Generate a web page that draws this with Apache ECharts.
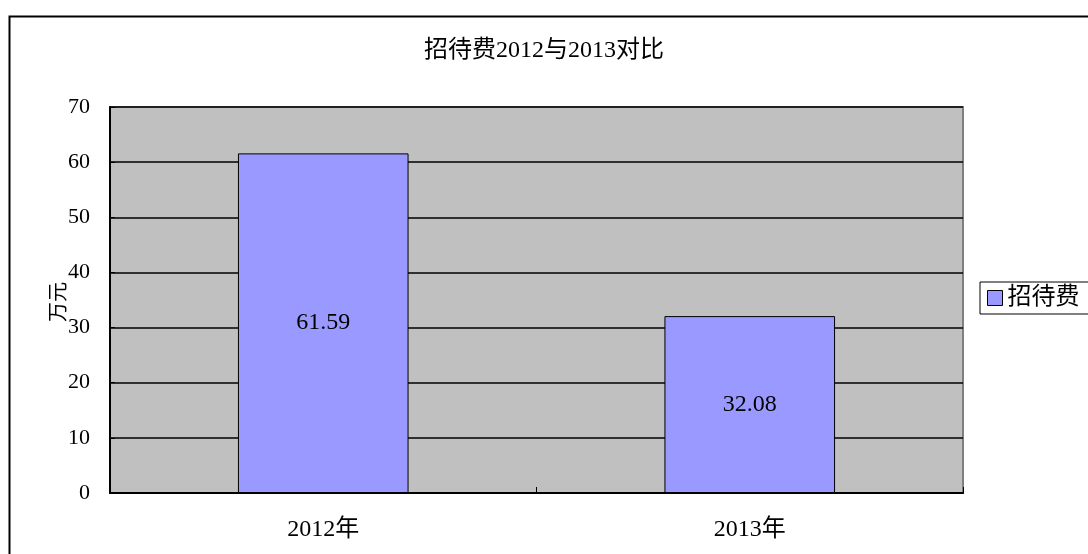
<!DOCTYPE html>
<html>
<head>
<meta charset="utf-8">
<script src="https://cdn.jsdelivr.net/npm/echarts@6/dist/echarts.min.js"></script>
<style>
html,body{margin:0;padding:0;background:#fff;}
#chart{width:1088px;height:554px;}
</style>
</head>
<body>
<div id="chart"></div>
<script>
const titleText = '招待费2012与2013对比';
const categories = ['2012年', '2013年'];
const seriesName = '招待费';
const values = [61.59, 32.08];
const yAxisName = '万元';
const yMin = 0, yMax = 70, yInterval = 10;

const FONT = "'Liberation Serif', 'DejaVu Serif', 'Noto Sans CJK SC', serif";
const chart = echarts.init(document.getElementById('chart'), null, {renderer: 'canvas'});
chart.setOption({
  animation: false,
  backgroundColor: '#ffffff',
  textStyle: {fontFamily: FONT, color: '#000'},
  graphic: [{
    type: 'rect', left: 7, top: 14, z: 100, silent: true,
    shape: {width: 1100, height: 600},
    style: {fill: 'none', stroke: '#000', lineWidth: 2}
  }],
  title: {
    text: titleText, left: 'center', top: 34,
    textStyle: {fontFamily: FONT, fontSize: 24, fontWeight: 'normal', color: '#000'}
  },
  legend: {
    data: [seriesName], left: 980, top: 282,
    orient: 'vertical',
    icon: 'rect', itemWidth: 15, itemHeight: 15, itemGap: 6,
    padding: [4, 14, 4, 7],
    borderColor: '#000', borderWidth: 1, backgroundColor: '#fff',
    textStyle: {fontFamily: FONT, fontSize: 24, color: '#000'},
    itemStyle: {borderColor: '#000', borderWidth: 1}
  },
  grid: {
    left: 110, right: 125, top: 107, bottom: 61,
    show: true, backgroundColor: '#C0C0C0', borderColor: '#808080', borderWidth: 2,
    containLabel: false
  },
  xAxis: {
    type: 'category', data: categories, boundaryGap: true,
    axisLine: {lineStyle: {color: '#000', width: 2}},
    axisTick: {show: true, inside: true, length: 6, lineStyle: {color: '#000'}},
    axisLabel: {fontFamily: FONT, fontSize: 24, color: '#000', margin: 25}
  },
  yAxis: {
    type: 'value', min: yMin, max: yMax, interval: yInterval,
    name: yAxisName, nameLocation: 'middle', nameGap: 40, nameRotate: 90,
    nameMoveOverlap: false,
    nameTextStyle: {fontFamily: FONT, fontSize: 20, color: '#000', padding: [0, 4, 0, 0]},
    axisLine: {show: true, lineStyle: {color: '#000', width: 2}},
    axisTick: {show: true, inside: true, length: 5, lineStyle: {color: '#000'}},
    axisLabel: {fontFamily: FONT, fontSize: 22, color: '#000', margin: 20},
    splitLine: {show: true, lineStyle: {color: '#000', width: 1.5}}
  },
  series: [{
    name: seriesName, type: 'bar', data: values, barWidth: '40%',
    itemStyle: {color: '#9999FF', borderColor: '#000', borderWidth: 1},
    label: {
      show: true, position: 'inside', color: '#000',
      fontFamily: FONT, fontSize: 24
    }
  }]
});
</script>
</body>
</html>
